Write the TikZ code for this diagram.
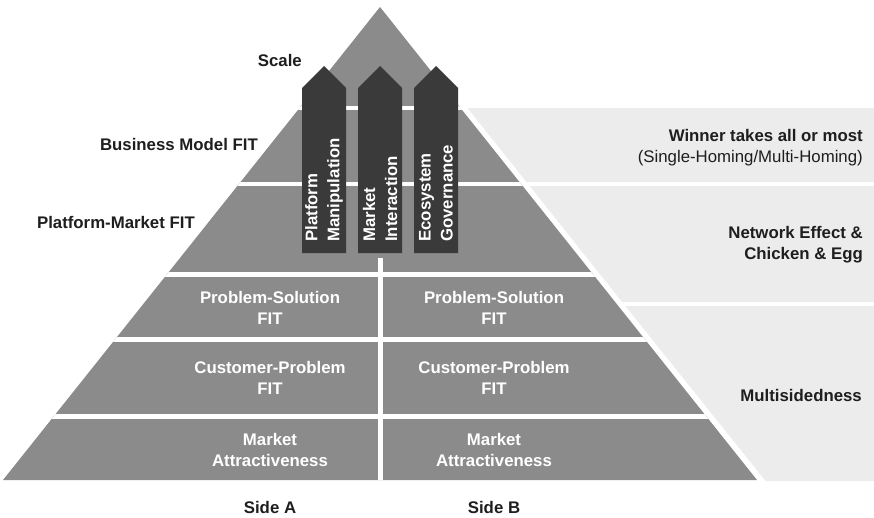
\documentclass[tikz,border=0pt]{standalone}
\usepackage{fontspec}
\setmainfont{Liberation Sans}
\begin{document}
\begin{tikzpicture}[x=1pt,y=-1pt,
  pyr/.style={fill=pyrgrey},
  panel/.style={fill=panelgrey},
  arrowbox/.style={fill=arrowdark},
  gap/.style={draw=white,line width=4.6pt},
  lbl/.style={inner sep=0pt,text=textdark,font=\fontsize{16.8}{21}\selectfont\bfseries},
  inlbl/.style={inner sep=0pt,text=white,align=center,font=\fontsize{16.8}{21}\selectfont\bfseries},
  arlbl/.style={inner sep=0pt,text=white,align=left,rotate=90,anchor=west,font=\fontsize{16.8}{22}\selectfont\bfseries}]
\definecolor{pyrgrey}{RGB}{139,139,139}
\definecolor{panelgrey}{RGB}{236,236,236}
\definecolor{arrowdark}{RGB}{58,58,58}
\definecolor{textdark}{RGB}{30,30,30}
\useasboundingbox (0,0) rectangle (874,517);
% right panels
\fill[panel] (467.5,108) -- (874,108) -- (874,182) -- (526.5,182) -- cycle;
\fill[panel] (529.7,186) -- (874,186) -- (874,302) -- (622.1,302) -- cycle;
\fill[panel] (625.3,306) -- (874,306) -- (874,481) -- (765.6,481) -- cycle;
% pyramid
\fill[pyr] (380,7) -- (757,480) -- (3,480) -- cycle;
\begin{scope}
  \clip (380,7) -- (757,480) -- (3,480) -- cycle;
  \draw[gap] (0,108) -- (874,108);
  \draw[gap] (0,184) -- (874,184);
  \draw[gap] (0,274.5) -- (874,274.5);
  \draw[gap] (0,339.5) -- (874,339.5);
  \draw[gap] (0,416.5) -- (874,416.5);
  \draw[draw=white,line width=5pt] (380,258) -- (380,481);
\end{scope}
% arrows
\fill[arrowbox] (302,253) -- (302,88) -- (324,66) -- (346,88) -- (346,253) -- cycle;
\fill[arrowbox] (358,253) -- (358,88) -- (380,66) -- (402,88) -- (402,253) -- cycle;
\fill[arrowbox] (414,253) -- (414,88) -- (436,66) -- (458,88) -- (458,253) -- cycle;
\node[arlbl] (a1) at (324,242) {Platform\\Manipulation};
\node[arlbl] (a2) at (380,242) {Market\\Interaction};
\node[arlbl] (a3) at (436,242) {Ecosystem\\Governance};
% left labels
\node[lbl,anchor=east] (scale) at (302,60) {Scale};
\node[lbl,anchor=east] (bm) at (258,144) {Business Model FIT};
\node[lbl,anchor=east] (pm) at (195,222) {Platform-Market FIT};
% right labels
\node[lbl,anchor=east,align=right] (win) at (863,148) {Winner takes all or most\\{\mdseries(Single-Homing/Multi-Homing)}};
\node[lbl,anchor=east,align=right] (net) at (863,245) {Network Effect \&\\Chicken \& Egg};
\node[lbl,anchor=east] (multi) at (862,395) {Multisidedness};
% band texts
\node[inlbl] (psa) at (270,307.5) {Problem-Solution\\FIT};
\node[inlbl] (psb) at (494,307.5) {Problem-Solution\\FIT};
\node[inlbl] (cpa) at (270,378) {Customer-Problem\\FIT};
\node[inlbl] (cpb) at (494,378) {Customer-Problem\\FIT};
\node[inlbl] (maa) at (270,450) {Market\\Attractiveness};
\node[inlbl] (mab) at (494,450) {Market\\Attractiveness};
% sides
\node[lbl] (sa) at (270,507) {Side A};
\node[lbl] (sb) at (494,507) {Side B};
\end{tikzpicture}
\end{document}
